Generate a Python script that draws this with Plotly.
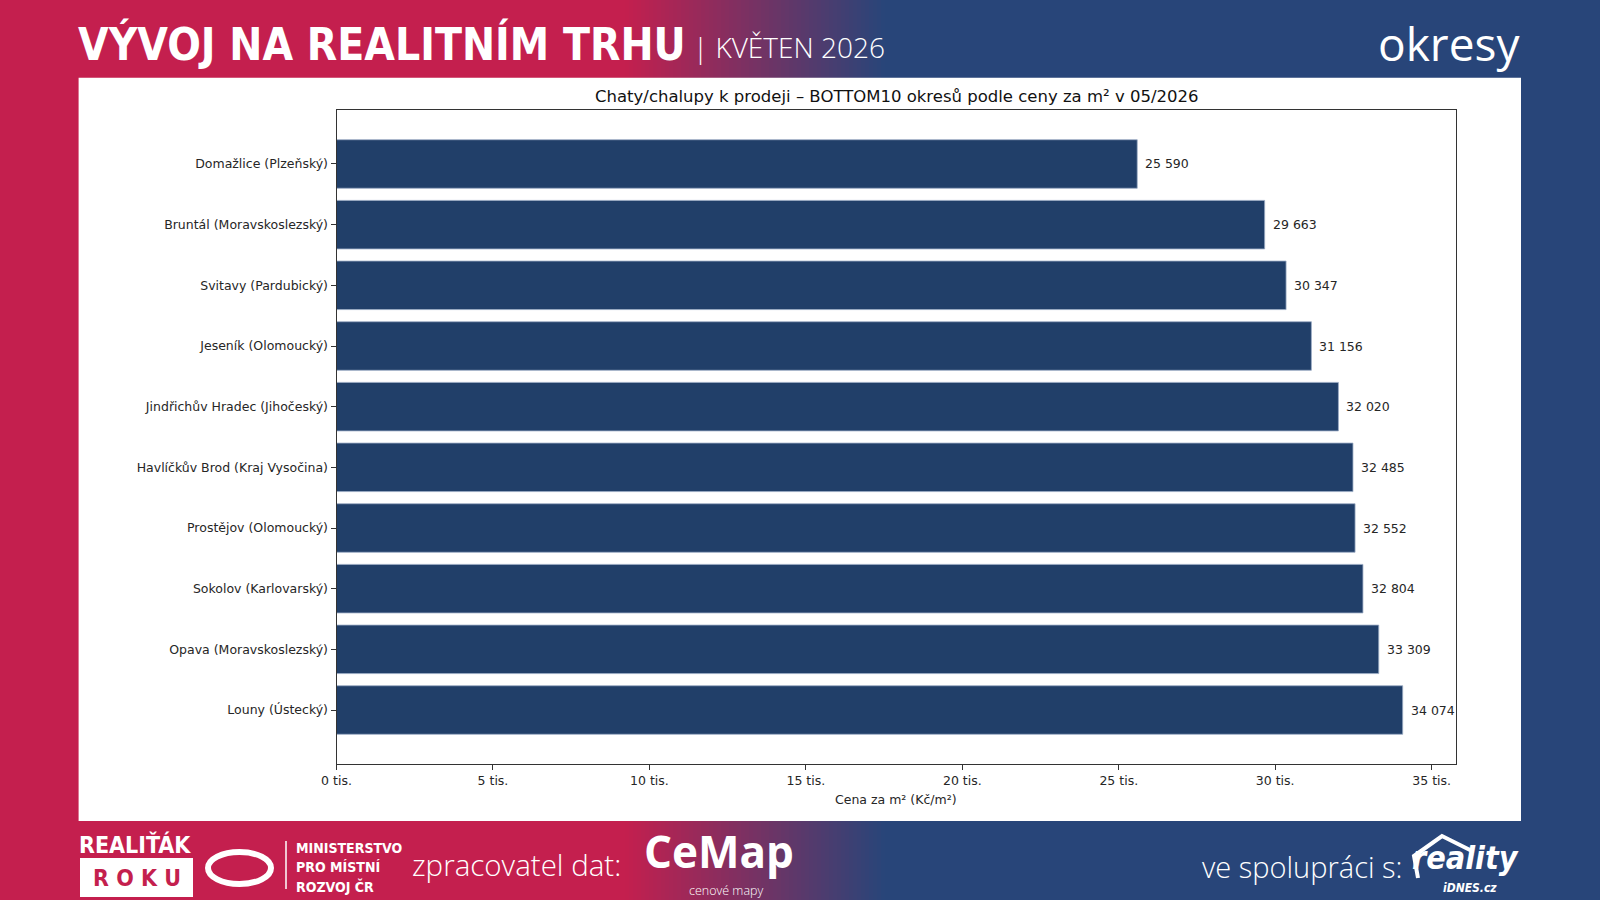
import plotly.graph_objects as go

# ---------------- data ----------------
districts = [
    "Domažlice (Plzeňský)",
    "Bruntál (Moravskoslezský)",
    "Svitavy (Pardubický)",
    "Jeseník (Olomoucký)",
    "Jindřichův Hradec (Jihočeský)",
    "Havlíčkův Brod (Kraj Vysočina)",
    "Prostějov (Olomoucký)",
    "Sokolov (Karlovarský)",
    "Opava (Moravskoslezský)",
    "Louny (Ústecký)",
]
prices = [25590, 29663, 30347, 31156, 32020, 32485, 32552, 32804, 33309, 34074]
x_tick_vals = [0, 5000, 10000, 15000, 20000, 25000, 30000, 35000]
x_tick_text = ["0 tis.", "5 tis.", "10 tis.", "15 tis.", "20 tis.", "25 tis.", "30 tis.", "35 tis."]

chart_title = "Chaty/chalupy k prodeji – BOTTOM10 okresů podle ceny za m² v 05/2026"
x_title = "Cena za m² (Kč/m²)"

W, H = 1600, 900
CRIMSON = (196, 31, 78)
NAVY = (40, 69, 121)
BAR = "#213F69"
TXT = "#262626"


def px(x):
    return x / W


def py(y):
    return 1 - y / H


def fmt(v):
    return f"{v:,}".replace(",", " ")


fig = go.Figure()
fig.add_trace(go.Bar(
    y=districts, x=prices, orientation="h", width=0.8,
    marker=dict(color=BAR, line=dict(color="#9aabc4", width=0.8)),
    hoverinfo="skip",
))

annotations = []
for d, v in zip(districts, prices):
    annotations.append(dict(
        x=v, y=d, xref="x", yref="y", text=fmt(v), showarrow=False,
        xanchor="left", yanchor="middle", xshift=6,
        font=dict(family="DejaVu Sans", size=12.5, color=TXT),
    ))

# ---------------- background shapes ----------------
shapes = []
g0, g1 = 625, 885
shapes.append(dict(type="rect", xref="paper", yref="paper", x0=0, x1=px(g0 + 1), y0=0, y1=1,
                   fillcolor="rgb(%d,%d,%d)" % CRIMSON, line=dict(width=0), layer="below"))
shapes.append(dict(type="rect", xref="paper", yref="paper", x0=px(g1 - 1), x1=1, y0=0, y1=1,
                   fillcolor="rgb(%d,%d,%d)" % NAVY, line=dict(width=0), layer="below"))
n = 65
step = (g1 - g0) / n
for i in range(n):
    t = (i + 0.5) / n
    c = tuple(int(round(CRIMSON[k] + (NAVY[k] - CRIMSON[k]) * t)) for k in range(3))
    shapes.append(dict(type="rect", xref="paper", yref="paper",
                       x0=px(g0 + i * step), x1=px(g0 + (i + 1) * step + 0.6), y0=0, y1=1,
                       fillcolor="rgb(%d,%d,%d)" % c, line=dict(width=0), layer="below"))
# white panel
shapes.append(dict(type="rect", xref="paper", yref="paper", x0=px(78.6), x1=px(1521), y0=py(821), y1=py(77.7),
                   fillcolor="white", line=dict(width=0), layer="below"))
# ROKU box
shapes.append(dict(type="rect", xref="paper", yref="paper", x0=px(80), x1=px(193), y0=py(897), y1=py(858),
                   fillcolor="white", line=dict(width=0), layer="below"))
# ministry emblem (approximation)
shapes.append(dict(type="circle", xref="paper", yref="paper", x0=px(208), x1=px(271), y0=py(884), y1=py(852),
                   line=dict(color="white", width=6), layer="below"))
shapes.append(dict(type="line", xref="paper", yref="paper", x0=px(286), x1=px(286), y0=py(889), y1=py(841),
                   line=dict(color="white", width=1.5), layer="below"))
# reality roof
shapes.append(dict(type="path", xref="paper", yref="paper",
                   path="M %f,%f L %f,%f L %f,%f L %f,%f" % (px(1418), py(878), px(1414), py(856),
                                                          px(1442), py(836), px(1472), py(851)),
                   line=dict(color="white", width=4), layer="below"))

# ---------------- texts ----------------
def txt(x, y, s, size, family="Open Sans", color="white", xanchor="left", yanchor="middle", weight=None, style=None):
    f = dict(family=family, size=size, color=color)
    if weight:
        f["weight"] = weight
    if style:
        f["style"] = style
    annotations.append(dict(x=px(x), y=py(y), xref="paper", yref="paper", text=s, showarrow=False,
                            xanchor=xanchor, yanchor=yanchor, font=f))

txt(76, 44, "VÝVOJ NA REALITNÍM TRHU", 44, family="DejaVu Sans Condensed", weight="bold")
txt(691, 47, "| KVĚTEN 2026", 28, family="Open Sans", weight=300)
txt(1522, 43, "okresy", 46, family="Open Sans", xanchor="right")

txt(896, 96, chart_title, 16.5, family="DejaVu Sans", color="#111111", xanchor="center")
txt(896, 799, x_title, 12.5, family="DejaVu Sans", color=TXT, xanchor="center")

# footer
txt(77, 844, "REALIŤÁK", 23, family="DejaVu Sans Condensed", weight="bold")
txt(136.5, 878, "R O K U", 23, family="DejaVu Sans Condensed", weight="bold",
    color="rgb(%d,%d,%d)" % CRIMSON, xanchor="center")
txt(294, 848, "MINISTERSTVO", 14, family="DejaVu Sans Condensed", weight="bold")
txt(294, 867, "PRO MÍSTNÍ", 14, family="DejaVu Sans Condensed", weight="bold")
txt(294, 886, "ROZVOJ ČR", 14, family="DejaVu Sans Condensed", weight="bold")
txt(410, 864, "zpracovatel dat:", 29.5, family="Open Sans", weight=300)
txt(642, 851, "CeMap", 44, family="Open Sans", weight="bold")
txt(726, 890, "cenové mapy", 12.5, family="Open Sans", weight=300, xanchor="center")
txt(1200, 866, "ve spolupráci s:", 29, family="Open Sans", weight=300)
txt(1521, 858, "reality", 32, family="DejaVu Sans Condensed", weight="bold", style="italic", xanchor="right")
txt(1499, 888, "iDNES.cz", 12, family="DejaVu Sans Condensed", weight="bold", style="italic", xanchor="right")

axis_font = dict(family="DejaVu Sans", size=12.5, color=TXT)
fig.update_layout(
    template="none",
    width=W, height=H,
    margin=dict(l=0, r=0, t=0, b=0, pad=0, autoexpand=False),
    paper_bgcolor="rgb(%d,%d,%d)" % CRIMSON,
    plot_bgcolor="white",
    showlegend=False,
    shapes=shapes,
    annotations=annotations,
    bargap=0.2,
    xaxis=dict(
        domain=[px(336.5), px(1456)], range=[0, 34074 * 1.05], automargin=False,
        tickvals=x_tick_vals, ticktext=x_tick_text,
        ticks="outside", ticklen=5, tickwidth=1, tickcolor="#333333",
        showline=True, linecolor="#333333", linewidth=1, mirror=True,
        showgrid=False, zeroline=False, tickfont=axis_font, fixedrange=True,
    ),
    yaxis=dict(
        domain=[py(764), py(110)], type="category", automargin=False,
        categoryorder="array", categoryarray=districts,
        range=[9.89, -0.89],
        ticks="outside", ticklen=5, tickwidth=1, tickcolor="#333333",
        showline=True, linecolor="#333333", linewidth=1, mirror=True,
        showgrid=False, zeroline=False, tickfont=axis_font, fixedrange=True,
    ),
)

fig.write_html("out.html")
